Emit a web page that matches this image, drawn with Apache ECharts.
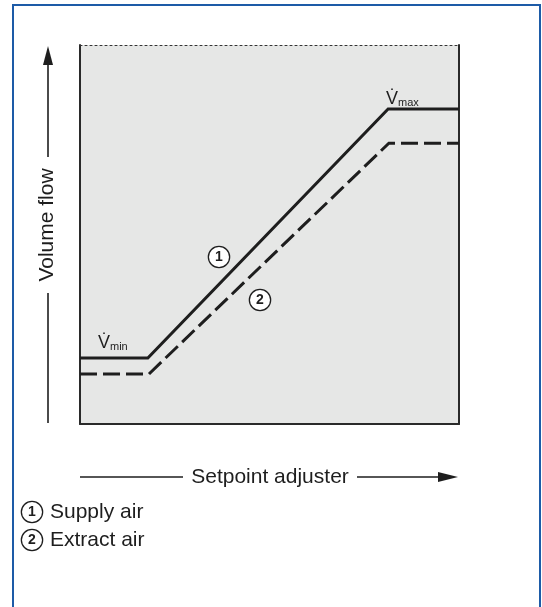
<!DOCTYPE html>
<html>
<head>
<meta charset="utf-8">
<script src="https://cdn.jsdelivr.net/npm/echarts@6/dist/echarts.min.js"></script>
<style>
html,body{margin:0;padding:0;background:#fff;}
#c{width:542px;height:607px;}
</style>
</head>
<body>
<div id="c"></div>
<script>
// Data (normalised setpoint 0–100 vs volume flow 0–100)
const supplyX = [0, 17.9, 81.3, 100];
const supplyY = [17.4, 17.4, 83.1, 83.1];
const extractX = [0, 18.2, 81.5, 100];
const extractY = [13.2, 13.2, 74.1, 74.1];
const seriesNames = ['Supply air', 'Extract air'];
const xTitle = 'Setpoint adjuster';
const yTitle = 'Volume flow';

const FONT = "'Liberation Sans', Arial, Helvetica, sans-serif";
const INK = '#1e1e1e';

function pairs(xs, ys) { return xs.map((x, i) => [x, ys[i]]); }

const chart = echarts.init(document.getElementById('c'), null, {renderer: 'canvas'});

function axis(pos, lineStyle) {
  return {
    type: 'value', min: 0, max: 100, position: pos,
    axisLine: {show: true, onZero: false, lineStyle: lineStyle},
    axisTick: {show: false}, axisLabel: {show: false}, splitLine: {show: false}
  };
}

function circled(num, x, y) {
  return {
    type: 'text', x: x, y: y, z: 20,
    style: {
      text: num, font: 'bold 14px ' + FONT, fill: INK,
      align: 'center', verticalAlign: 'middle',
      width: 18, height: 18, lineHeight: 18,
      backgroundColor: '#fff', borderColor: INK, borderWidth: 1.3, borderRadius: 11,
      padding: [1, 1, 1, 1]
    }
  };
}

function vLabel(sub, x, y) {
  return {
    type: 'text', x: x, y: y, z: 20,
    style: {
      text: '{v|V\u0307}{s|' + sub + '}', fill: INK, align: 'left', verticalAlign: 'bottom',
      rich: {
        v: {font: '18px ' + FONT, fill: INK, verticalAlign: 'bottom'},
        s: {font: '11px ' + FONT, fill: INK, verticalAlign: 'bottom'}
      }
    }
  };
}

const solidAxis = {color: '#2a2a2a', width: 2};

const option = {
  backgroundColor: '#fff',
  animation: false,
  grid: {left: 80, top: 45, right: 83, bottom: 183, show: true, backgroundColor: '#e6e7e6', borderWidth: 0},
  xAxis: [
    axis('bottom', solidAxis),
    axis('top', {color: '#333', width: 1, type: [2, 3]})
  ],
  yAxis: [
    axis('left', solidAxis),
    axis('right', solidAxis)
  ],
  series: [
    {
      name: seriesNames[0], type: 'line', xAxisIndex: 0, yAxisIndex: 0,
      data: pairs(supplyX, supplyY), symbol: 'none', z: 5,
      lineStyle: {color: INK, width: 3, cap: 'butt', join: 'miter'}
    },
    {
      name: seriesNames[1], type: 'line', xAxisIndex: 0, yAxisIndex: 0,
      data: pairs(extractX, extractY), symbol: 'none', z: 5,
      lineStyle: {color: INK, width: 3, type: [17, 6], cap: 'butt', join: 'miter'}
    }
  ],
  graphic: [
    // outer blue frame
    {type: 'rect', shape: {x: 13, y: 5, width: 527, height: 700}, z: 1,
     style: {fill: 'none', stroke: '#1d5ba7', lineWidth: 2}},
    // Y arrow
    {type: 'line', shape: {x1: 48, y1: 423, x2: 48, y2: 293}, style: {stroke: INK, lineWidth: 1.6}},
    {type: 'line', shape: {x1: 48, y1: 157, x2: 48, y2: 60}, style: {stroke: INK, lineWidth: 1.6}},
    {type: 'polygon', shape: {points: [[48, 46], [43, 65], [53, 65]]}, style: {fill: INK}},
    {type: 'text', x: 47, y: 225, rotation: Math.PI / 2,
     style: {text: yTitle, font: '21px ' + FONT, fill: INK, align: 'center', verticalAlign: 'middle'}},
    // X arrow
    {type: 'line', shape: {x1: 80, y1: 477, x2: 183, y2: 477}, style: {stroke: INK, lineWidth: 1.6}},
    {type: 'line', shape: {x1: 357, y1: 477, x2: 442, y2: 477}, style: {stroke: INK, lineWidth: 1.6}},
    {type: 'polygon', shape: {points: [[458, 477], [438, 472], [438, 482]]}, style: {fill: INK}},
    {type: 'text', x: 270, y: 477,
     style: {text: xTitle, font: '21px ' + FONT, fill: INK, align: 'center', verticalAlign: 'middle'}},
    // V-dot labels
    vLabel('min', 98, 352),
    vLabel('max', 386, 108),
    // circled series markers
    circled('1', 219, 257),
    circled('2', 260, 300),
    // legend
    circled('1', 32, 512),
    {type: 'text', x: 50, y: 512,
     style: {text: seriesNames[0], font: '21px ' + FONT, fill: INK, align: 'left', verticalAlign: 'middle'}},
    circled('2', 32, 540),
    {type: 'text', x: 50, y: 540,
     style: {text: seriesNames[1], font: '21px ' + FONT, fill: INK, align: 'left', verticalAlign: 'middle'}}
  ]
};
chart.setOption(option);
</script>
</body>
</html>
